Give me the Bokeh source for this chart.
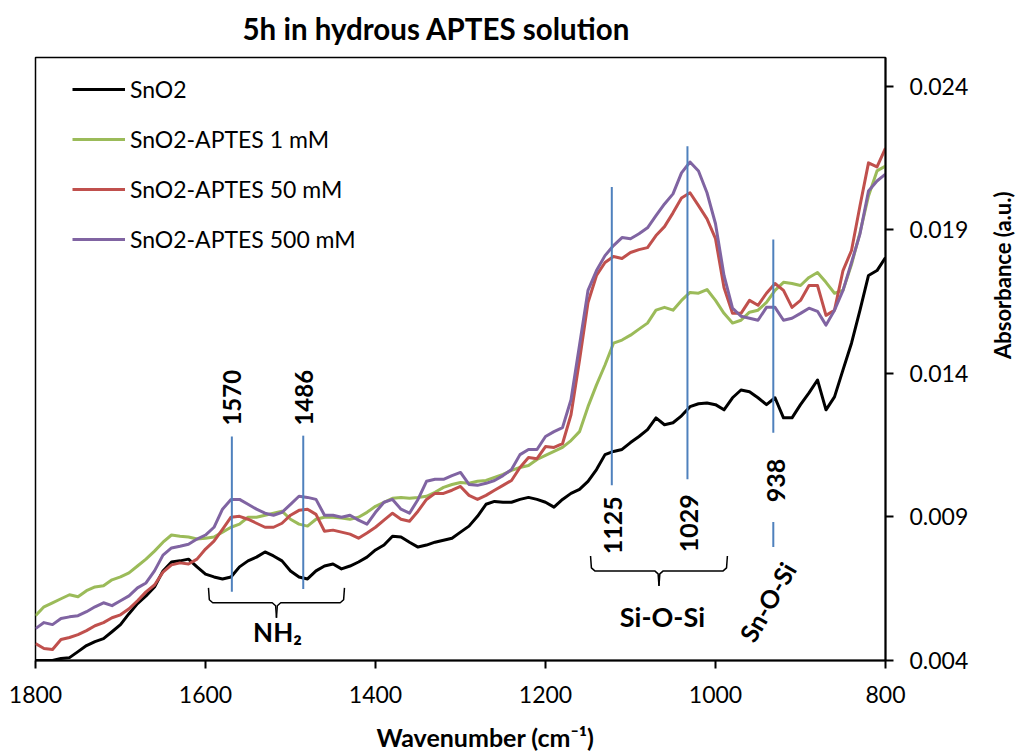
import math
from bokeh.plotting import figure
from bokeh.models import Range1d, FixedTicker, PrintfTickFormatter, Label, Legend, LegendItem
from bokeh.embed import file_html
from bokeh.resources import INLINE

# ---------------- data ----------------
wavenumber = list(range(1800, 799, -10))

sno2 = [0.00400, 0.00400, 0.00400, 0.00407, 0.00410, 0.00431, 0.00452, 0.00466, 0.00476, 0.00500,
        0.00525, 0.00563, 0.00598, 0.00625, 0.00656, 0.00712, 0.00743, 0.00747, 0.00753, 0.00726,
        0.00701, 0.00691, 0.00684, 0.00691, 0.00726, 0.00747, 0.00760, 0.00778, 0.00764, 0.00747,
        0.00712, 0.00691, 0.00684, 0.00712, 0.00729, 0.00736, 0.00719, 0.00729, 0.00743, 0.00760,
        0.00785, 0.00802, 0.00833, 0.00830, 0.00812, 0.00795, 0.00802, 0.00812, 0.00819, 0.00826,
        0.00847, 0.00868, 0.00902, 0.00944, 0.00954, 0.00951, 0.00951, 0.00961, 0.00968, 0.00961,
        0.00951, 0.00934, 0.00961, 0.00982, 0.00996, 0.01024, 0.01065, 0.01117, 0.01128, 0.01135,
        0.01159, 0.01180, 0.01204, 0.01245, 0.01221, 0.01228, 0.01252, 0.01284, 0.01294, 0.01297,
        0.01291, 0.01273, 0.01315, 0.01342, 0.01336, 0.01315, 0.01291, 0.01315, 0.01245, 0.01245,
        0.01291, 0.01332, 0.01377, 0.01273, 0.01318, 0.01412, 0.01505, 0.01620, 0.01741, 0.01758,
        0.01803]

aptes_1mm = [0.00556, 0.00587, 0.00601, 0.00615, 0.00629, 0.00622, 0.00643, 0.00656, 0.00660, 0.00681,
             0.00691, 0.00705, 0.00729, 0.00753, 0.00781, 0.00812, 0.00837, 0.00833, 0.00830, 0.00823,
             0.00826, 0.00830, 0.00847, 0.00864, 0.00875, 0.00899, 0.00899, 0.00906, 0.00913, 0.00920,
             0.00892, 0.00875, 0.00868, 0.00892, 0.00899, 0.00899, 0.00896, 0.00892, 0.00899, 0.00916,
             0.00937, 0.00951, 0.00965, 0.00968, 0.00965, 0.00968, 0.00972, 0.00986, 0.01003, 0.01013,
             0.01020, 0.01017, 0.01024, 0.01027, 0.01038, 0.01048, 0.01062, 0.01072, 0.01079, 0.01100,
             0.01114, 0.01128, 0.01142, 0.01166, 0.01197, 0.01284, 0.01360, 0.01429, 0.01505, 0.01516,
             0.01533, 0.01554, 0.01575, 0.01620, 0.01630, 0.01620, 0.01654, 0.01682, 0.01679, 0.01692,
             0.01654, 0.01609, 0.01575, 0.01585, 0.01613, 0.01620, 0.01647, 0.01689, 0.01717, 0.01713,
             0.01706, 0.01734, 0.01751, 0.01717, 0.01679, 0.01689, 0.01779, 0.01890, 0.02018, 0.02105,
             0.02122]

aptes_50mm = [0.00459, 0.00442, 0.00438, 0.00473, 0.00480, 0.00490, 0.00504, 0.00521, 0.00532, 0.00549,
              0.00559, 0.00580, 0.00608, 0.00639, 0.00663, 0.00708, 0.00733, 0.00740, 0.00736, 0.00753,
              0.00788, 0.00816, 0.00857, 0.00899, 0.00902, 0.00892, 0.00878, 0.00864, 0.00864, 0.00878,
              0.00906, 0.00923, 0.00927, 0.00909, 0.00850, 0.00854, 0.00847, 0.00840, 0.00826, 0.00844,
              0.00864, 0.00889, 0.00913, 0.00892, 0.00885, 0.00920, 0.00961, 0.00982, 0.00982, 0.00993,
              0.01006, 0.00975, 0.00961, 0.00975, 0.00993, 0.01010, 0.01027, 0.01072, 0.01107, 0.01103,
              0.01145, 0.01142, 0.01155, 0.01256, 0.01446, 0.01647, 0.01741, 0.01786, 0.01807, 0.01800,
              0.01821, 0.01831, 0.01838, 0.01880, 0.01911, 0.01959, 0.02011, 0.02029, 0.01984, 0.01938,
              0.01869, 0.01699, 0.01609, 0.01609, 0.01654, 0.01637, 0.01679, 0.01713, 0.01689, 0.01630,
              0.01654, 0.01706, 0.01706, 0.01602, 0.01620, 0.01758, 0.01828, 0.01984, 0.02133, 0.02119,
              0.02184]

aptes_500mm = [0.00511, 0.00532, 0.00525, 0.00546, 0.00552, 0.00556, 0.00570, 0.00587, 0.00601, 0.00591,
               0.00608, 0.00625, 0.00653, 0.00670, 0.00712, 0.00767, 0.00792, 0.00798, 0.00805, 0.00823,
               0.00837, 0.00864, 0.00927, 0.00961, 0.00961, 0.00944, 0.00927, 0.00913, 0.00906, 0.00916,
               0.00944, 0.00972, 0.00968, 0.00961, 0.00906, 0.00906, 0.00899, 0.00906, 0.00889, 0.00875,
               0.00916, 0.00951, 0.00961, 0.00927, 0.00913, 0.00961, 0.01024, 0.01031, 0.01031, 0.01044,
               0.01055, 0.01013, 0.01010, 0.01017, 0.01027, 0.01044, 0.01065, 0.01117, 0.01135, 0.01135,
               0.01180, 0.01197, 0.01211, 0.01308, 0.01498, 0.01689, 0.01758, 0.01810, 0.01845, 0.01873,
               0.01869, 0.01886, 0.01907, 0.01949, 0.01990, 0.02025, 0.02098, 0.02136, 0.02105, 0.02029,
               0.01921, 0.01741, 0.01627, 0.01599, 0.01592, 0.01585, 0.01630, 0.01630, 0.01585, 0.01592,
               0.01609, 0.01627, 0.01616, 0.01568, 0.01620, 0.01689, 0.01786, 0.01886, 0.02035, 0.02070,
               0.02094]

series_names = ["SnO2", "SnO2-APTES 1 mM", "SnO2-APTES 50 mM", "SnO2-APTES 500 mM"]
series_colors = ["#000000", "#9BBB59", "#C0504D", "#8064A2"]

x_ticks = [1800, 1600, 1400, 1200, 1000, 800]
y_ticks = [0.004, 0.009, 0.014, 0.019, 0.024]

title_text = "5h in hydrous APTES solution"
x_title = "Wavenumber (cm⁻¹)"
y_title = "Absorbance (a.u.)"

# peak markers (label, drawn position, bottom, top)
peak_labels = ["1570", "1486", "1125", "1029", "938"]
peak_x = [1569, 1485, 1122, 1033, 932]
peak_bottom = [0.00639, 0.00649, 0.01010, 0.01031, 0.01193]
peak_top = [0.01180, 0.01183, 0.02049, 0.02191, 0.01866]

FONT = "Lato"

# ---------------- figure ----------------
p = figure(width=1032, height=754, output_backend="svg", toolbar_location=None,
           x_range=Range1d(1800, 800), y_range=Range1d(0.004, 0.025),
           y_axis_location="right",
           min_border_left=35, min_border_right=147, min_border_top=57, min_border_bottom=92)

p.xgrid.visible = False
p.ygrid.visible = False
p.outline_line_color = "black"
p.outline_line_width = 1.5
p.background_fill_color = "white"
p.border_fill_color = "white"

for ax in (p.xaxis[0], p.yaxis[0]):
    ax.axis_line_width = 2
    ax.axis_line_color = "black"
    ax.major_tick_line_width = 2
    ax.major_tick_line_color = "black"
    ax.major_tick_in = 0
    ax.major_tick_out = 8
    ax.minor_tick_line_color = None
    ax.major_label_text_font = FONT
    ax.major_label_text_font_size = "23px"
    ax.major_label_text_color = "black"
    ax.axis_label_text_font = FONT
    ax.axis_label_text_font_style = "bold"
    ax.axis_label_text_color = "black"

p.xaxis.ticker = FixedTicker(ticks=x_ticks)
p.yaxis.ticker = FixedTicker(ticks=y_ticks)
p.yaxis.formatter = PrintfTickFormatter(format="%.3f")
p.xaxis.major_label_standoff = 17
p.yaxis.major_label_standoff = 16

# axis titles (em/en spaces shift the x title along the axis as in the reference)
p.xaxis.axis_label = "\u2003\u2003\u2002" + x_title
p.xaxis.axis_label_text_font_size = "25px"
p.xaxis.axis_label_standoff = 16
p.yaxis.axis_label = y_title
p.yaxis.axis_label_text_font_size = "22px"
p.yaxis.axis_label_text_line_height = 1.0
p.yaxis.axis_label_standoff = 31
p.yaxis.axis_label_orientation = math.pi / 2

# chart title
p.title.text = title_text
p.title.align = "left"
p.title.vertical_align = "top"
p.title.offset = 207
p.title.standoff = 19
p.title.text_line_height = 1.0
p.title.text_font = FONT
p.title.text_font_style = "bold"
p.title.text_font_size = "29.5px"
p.title.text_color = "black"

# ---------------- data lines ----------------
renderers = []
for ys, col in zip([sno2, aptes_1mm, aptes_50mm, aptes_500mm], series_colors):
    r = p.line(wavenumber, ys, line_color=col, line_width=3, line_join="round")
    renderers.append(r)

# ---------------- peak markers ----------------
p.segment(x0=peak_x, y0=peak_bottom, x1=peak_x, y1=peak_top, line_color="#4F81BD", line_width=2)
p.segment(x0=[932], y0=[0.00795], x1=[932], y1=[0.00882], line_color="#4F81BD", line_width=2)

label_pos = [(1569.4, 0.01315, "24px"), (1484.7, 0.01315, "24px"),
             (1121.0, 0.00871, "25px"), (1030.6, 0.00878, "25px"),
             (929.4, 0.01027, "25px")]
for txt, (lx, ly, sz) in zip(peak_labels, label_pos):
    p.add_layout(Label(x=lx, y=ly, text=txt, angle=90, angle_units="deg",
                       text_align="center", text_baseline="middle",
                       text_font=FONT, text_font_style="bold", text_font_size=sz, text_color="black"))

# ---------------- braces ----------------
def brace(w_hi, w_lo, y_top, y_bar, y_tip):
    wm = (w_hi + w_lo) / 2.0
    dy = (y_top - y_bar) * 0.2
    left_x = [w_hi, w_hi - 1, w_hi - 5, wm + 5, wm + 1, wm]
    left_y = [y_top, y_bar + dy, y_bar, y_bar, y_bar - dy, y_tip]
    right_x = [w_lo, w_lo + 1, w_lo + 5, wm - 5, wm - 1, wm]
    right_y = left_y[:]
    return [left_x, right_x], [left_y, right_y]

for bw_hi, bw_lo, b_top, b_bar, b_tip in [(1596.5, 1436.5, 0.00653, 0.00601, 0.00549),
                                          (1147.0, 986.0, 0.00764, 0.00712, 0.00660)]:
    xs, ys = brace(bw_hi, bw_lo, b_top, b_bar, b_tip)
    p.multi_line(xs, ys, line_color="black", line_width=1.5)

p.add_layout(Label(x=1515.3, y=0.0050, text="NH₂", text_align="center", text_baseline="middle",
                   text_font=FONT, text_font_style="bold", text_font_size="26px", text_color="black"))
p.add_layout(Label(x=1062.4, y=0.00552, text="Si-O-Si", text_align="center", text_baseline="middle",
                   text_font=FONT, text_font_style="bold", text_font_size="27px", text_color="black"))
p.add_layout(Label(x=939, y=0.00604, text="Sn-O-Si", angle=60, angle_units="deg",
                   text_align="center", text_baseline="middle",
                   text_font=FONT, text_font_style="bold", text_font_size="25px", text_color="black"))

# ---------------- legend ----------------
legend = Legend(items=[LegendItem(label=n, renderers=[r]) for n, r in zip(series_names, renderers)],
                location=(37, 407), padding=0, margin=0, spacing=22,
                glyph_width=53, glyph_height=26, label_height=26, label_standoff=5,
                label_text_font=FONT, label_text_font_size="23px", label_text_color="black",
                border_line_alpha=0, background_fill_alpha=0)
p.add_layout(legend)

open("out.html", "w").write(file_html(p, INLINE))
